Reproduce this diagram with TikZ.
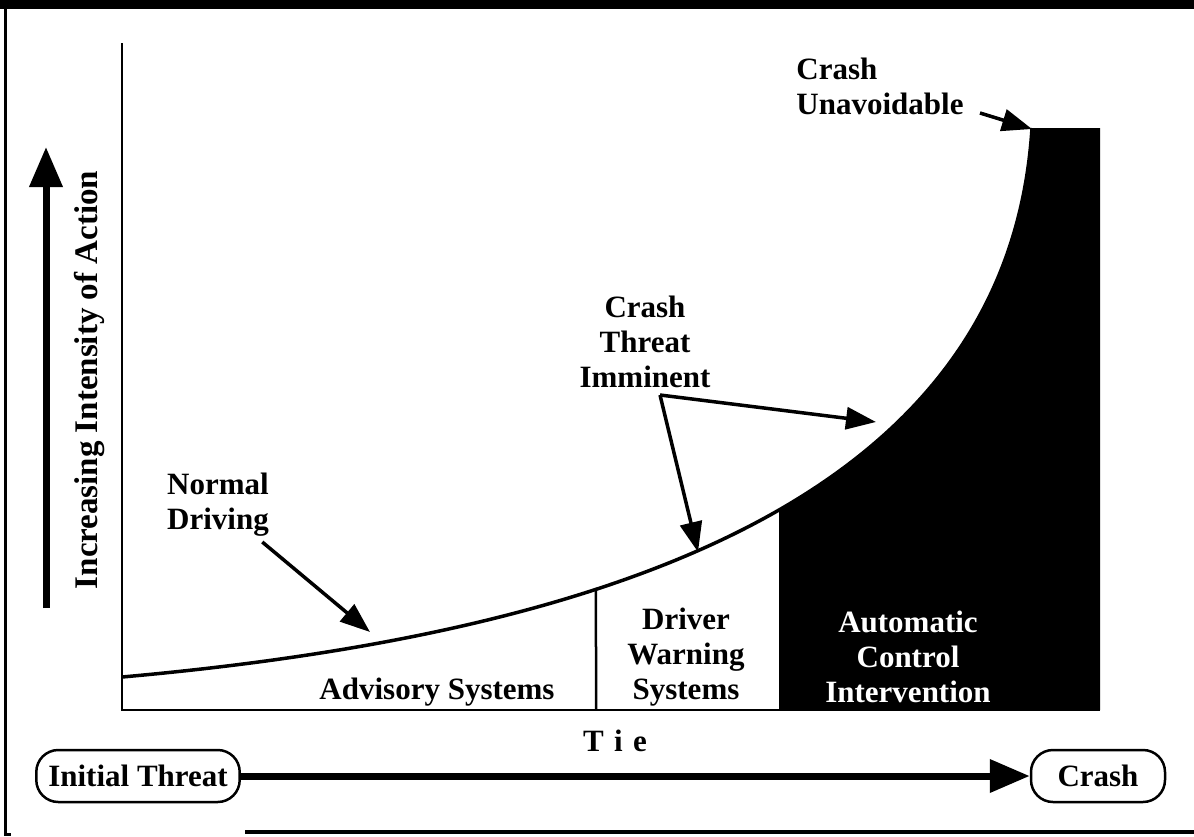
\documentclass[tikz,border=0pt]{standalone}
\usepackage{fontspec}
\setmainfont{Liberation Serif}
\usetikzlibrary{positioning,arrows.meta,intersections}

\tikzset{
  lbl/.style={font=\fontsize{31}{35}\selectfont\bfseries, align=center, inner sep=0pt},
  endbox/.style={lbl, draw, line width=2.5pt, rounded corners=22pt,
    minimum height=52pt, inner xsep=12pt},
  pointer/.style={line width=3.5pt, -{Triangle[length=30pt,width=22pt]}},
  bigarrow/.style={line width=7pt, -{Triangle[length=40pt,width=32pt]}},
}

\begin{document}
\begin{tikzpicture}[x=1pt,y=-1pt]
  \useasboundingbox (0,0) rectangle (1194,836);

  % frame
  \fill (0,0) rectangle (1194,9);
  \draw[line width=3pt] (5,0) -- (5,834) -- (11,834);
  \draw[line width=3.5pt] (245,832) -- (1194,832);

  % axes and curve
  \begin{scope}
    \clip (779,0) rectangle (1100,710);
    \fill (122,677) .. controls (650,630) and (1010,480) .. (1032,128)
      -- (1100,128) -- (1100,710) -- (122,710) -- cycle;
  \end{scope}
  \draw[line width=2.5pt] (122,43) -- (122,710) -- (1100,710);
  \draw[line width=3.5pt, name path=curve]
    (122,677) .. controls (650,630) and (1010,480) .. (1032,128);
  \path[name path=divline] (596,450) -- (596,710);
  \draw[line width=2.5pt, name intersections={of=curve and divline}]
    (intersection-1) -- (596,710);

  % regions
  \node[lbl] (adv) at (437,692) {Advisory Systems};
  \node[lbl] (warn) at (686,657) {Driver\\Warning\\Systems};
  \node[lbl, text=white] (auto) at (908,657) {Automatic\\Control\\Intervention};

  % callouts
  \node[lbl] (normal) at (218,505) {Normal\\Driving};
  \node[lbl] (threat) at (645,342) {Crash\\Threat\\Imminent};
  \node[lbl, align=left] (unavoid) at (880,86) {Crash\\Unavoidable};
  \coordinate (nd-tip) at (370,632);
  \coordinate (fork) at (660,395);
  \coordinate (cti-tip-a) at (698,552);
  \coordinate (cti-tip-b) at (876,422);
  \coordinate (cu-tail) at (980,113);
  \coordinate (cu-tip) at (1032,129);

  \draw[pointer, shorten <=8pt] (normal) -- (nd-tip);
  \path[pointer]
    (fork)
      edge (cti-tip-a)
      edge (cti-tip-b);
  \draw[pointer] (cu-tail) -- (cu-tip);

  % vertical axis label
  \node[lbl, rotate=90, font=\fontsize{33}{37}\selectfont\bfseries] (intensity)
    at (90,380) {Increasing Intensity of Action};
  \coordinate (ia-low) at (46,608);
  \coordinate (ia-high) at (46,147);
  \draw[bigarrow] (ia-low) -- (ia-high);

  % time line
  \node[endbox] (init) at (138,776) {Initial Threat};
  \node[endbox, minimum width=134pt] (crash) at (1098,776) {Crash};
  \node[lbl] (time) at (615,741) {T\,\,i\,\,e};
  \draw[bigarrow] (init) -- (crash);
\end{tikzpicture}
\end{document}
